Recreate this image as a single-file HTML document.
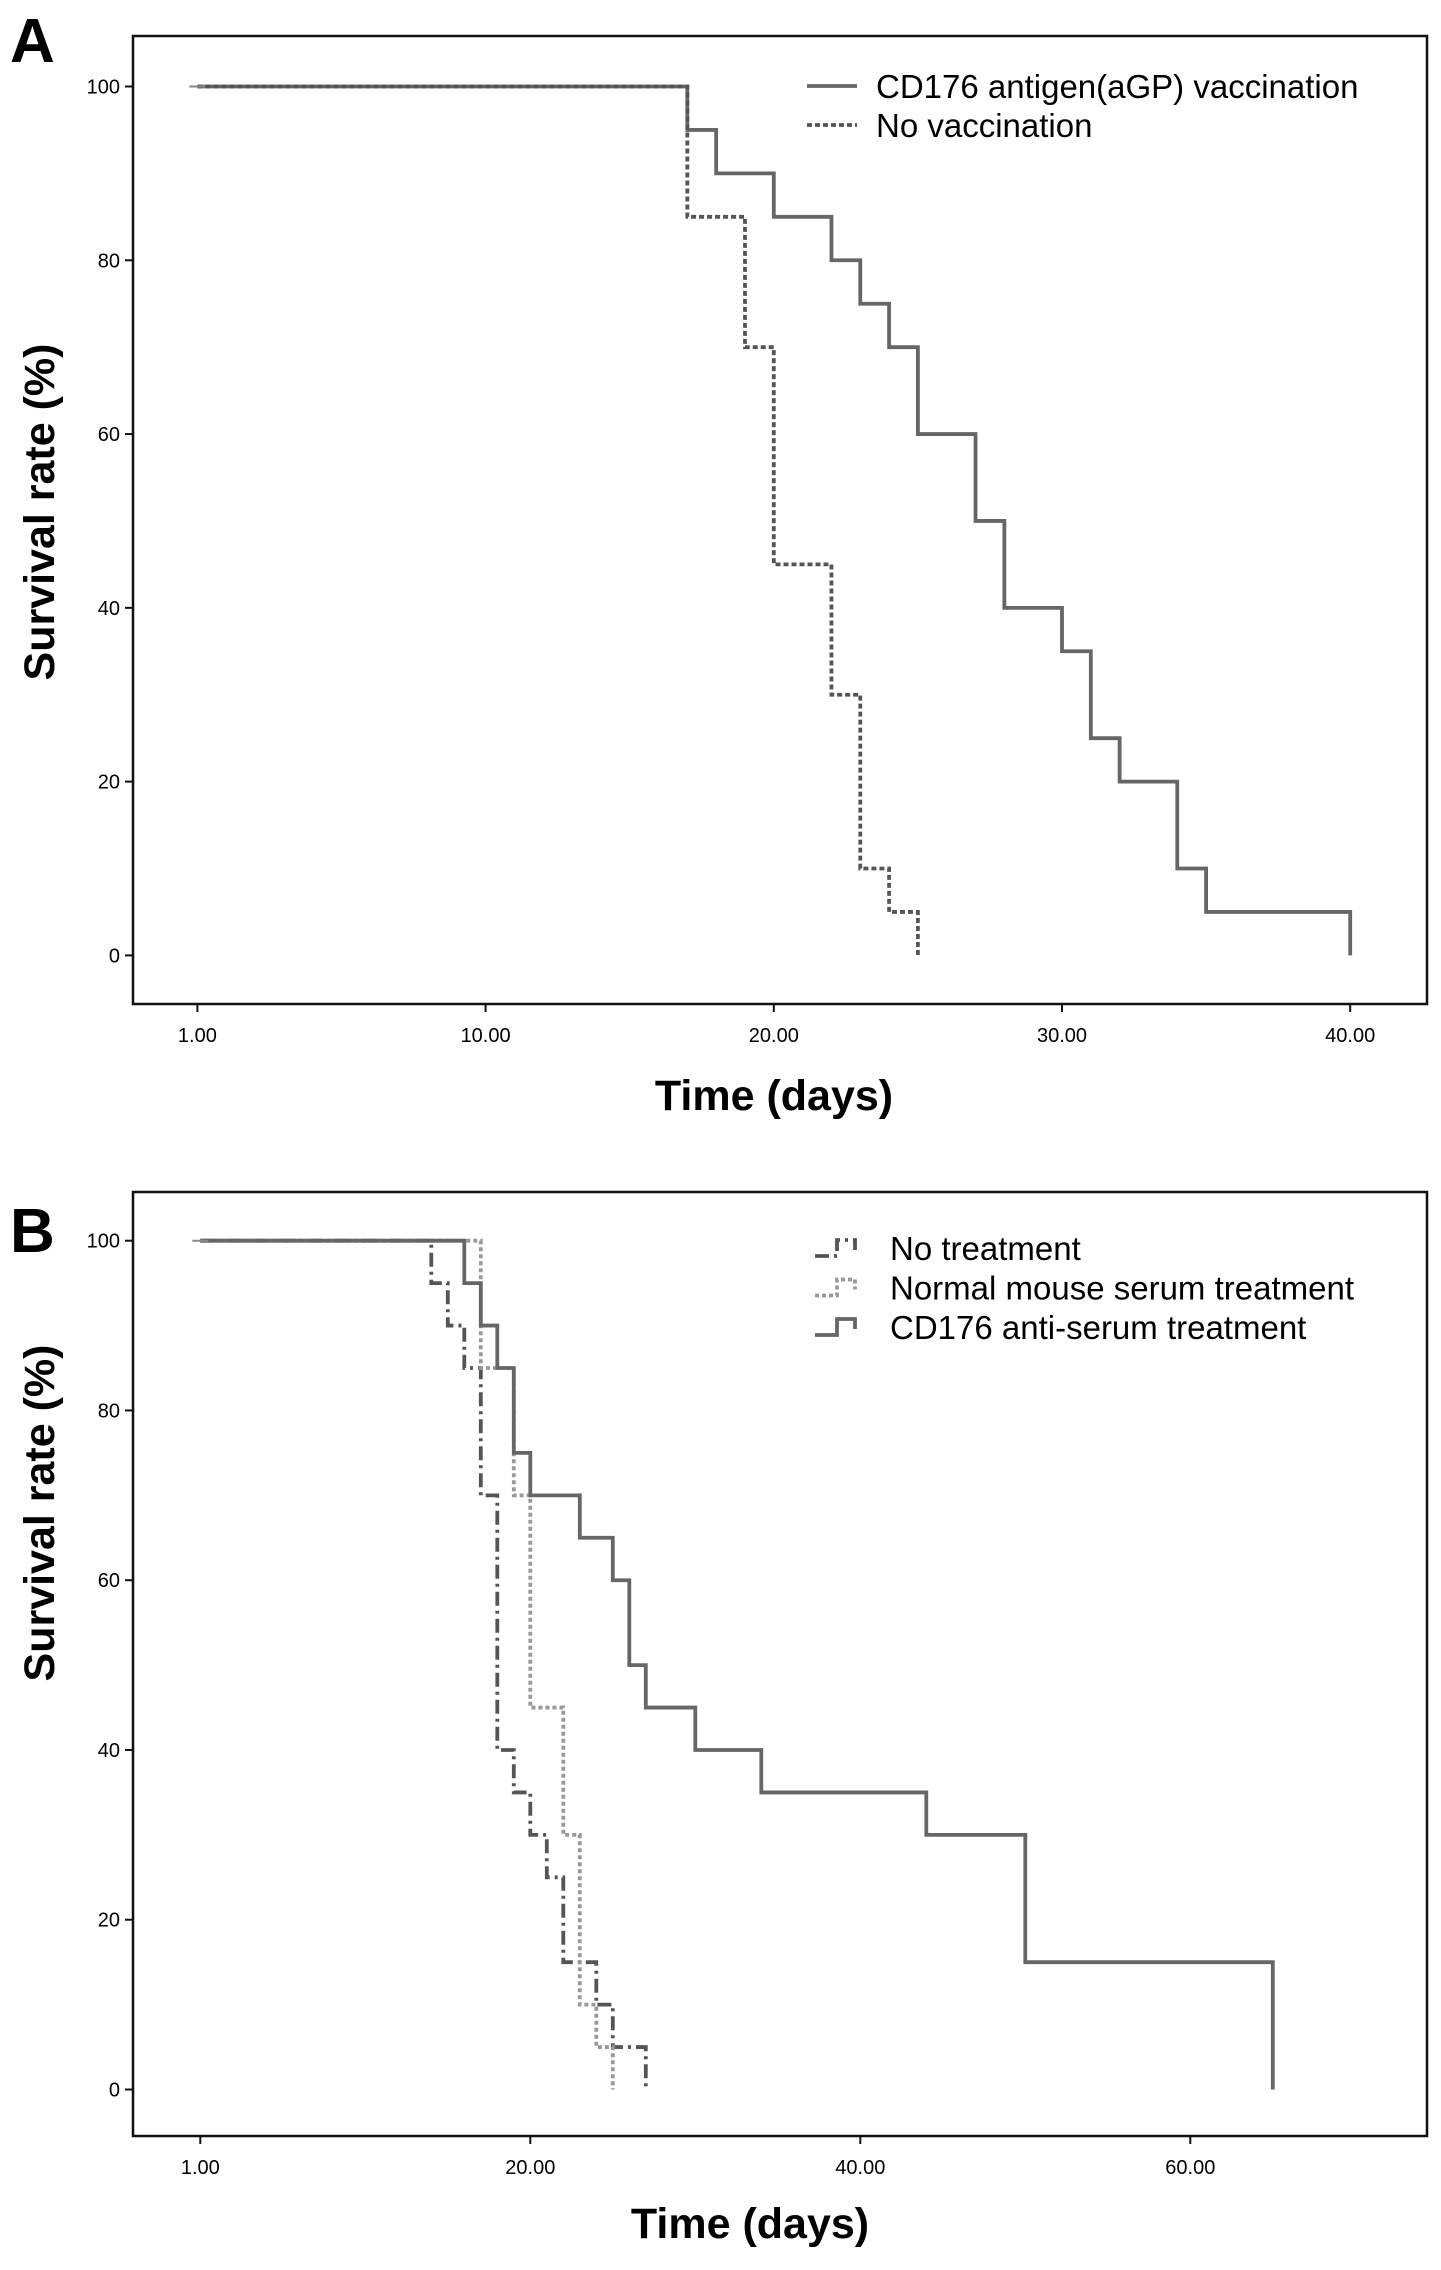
<!DOCTYPE html>
<html><head><meta charset="utf-8"><style>
body{margin:0;background:#fff}
svg{display:block;font-family:"Liberation Sans",sans-serif}
</style></head><body>
<svg id="fig" width="1441" height="2270" viewBox="0 0 1441 2270">
<text x="10" y="62" font-size="62" font-weight="bold">A</text>
<text x="10" y="1252" font-size="62" font-weight="bold">B</text>
</svg>
<script>
// Panel A data
const aTicksX = [0, 10, 20, 30, 40];
const aTickLabelsX = ["1.00", "10.00", "20.00", "30.00", "40.00"];
const ticksY = [0, 20, 40, 60, 80, 100];
const aVacTimes = [0, 17, 18, 20, 22, 23, 24, 25, 27, 28, 30, 31, 32, 34, 35, 40];
const aVacSurv = [100, 95, 90, 85, 80, 75, 70, 60, 50, 40, 35, 25, 20, 10, 5, 0];
const aNoTimes = [0, 17, 19, 20, 22, 23, 24, 25];
const aNoSurv = [100, 85, 70, 45, 30, 10, 5, 0];
// Panel B data
const bTicksX = [0, 20, 40, 60];
const bTickLabelsX = ["1.00", "20.00", "40.00", "60.00"];
const bNoTimes = [0, 14, 15, 16, 17, 18, 19, 20, 21, 22, 24, 25, 27];
const bNoSurv = [100, 95, 90, 85, 70, 40, 35, 30, 25, 15, 10, 5, 0];
const bNmsTimes = [0, 17, 19, 20, 22, 23, 24, 25];
const bNmsSurv = [100, 85, 70, 45, 30, 10, 5, 0];
const bAntiTimes = [0, 16, 17, 18, 19, 20, 23, 25, 26, 27, 30, 34, 44, 50, 65];
const bAntiSurv = [100, 95, 90, 85, 75, 70, 65, 60, 50, 45, 40, 35, 30, 15, 0];

const NS = "http://www.w3.org/2000/svg";
const svg = document.getElementById("fig");
function el(tag, attrs, parent) {
  const e = document.createElementNS(NS, tag);
  for (const k in attrs) e.setAttribute(k, attrs[k]);
  (parent || svg).appendChild(e);
  return e;
}
function stepPath(times, surv, sx, sy) {
  let d = "M" + sx(times[0]) + "," + sy(surv[0]);
  for (let i = 1; i < times.length; i++) {
    d += " H" + sx(times[i]) + " V" + sy(surv[i]);
  }
  return d;
}
function panel(cfg) {
  const sx = v => cfg.x0 + v * cfg.xu;
  const sy = v => cfg.y0 - v * cfg.yu;
  const g = el("g", {});
  
  
  const box = el("rect", {x: cfg.bx, y: cfg.by, width: cfg.bw, height: cfg.bh, fill: "none", stroke: "#111", "stroke-width": 2.5}, g);
  
  
  ticksY.forEach(v => {
    const t = el("line", {x1: cfg.bx - 8, x2: cfg.bx, y1: sy(v), y2: sy(v), stroke: "#111", "stroke-width": 2}, g);
    
    
    const tl = el("text", {x: cfg.bx - 13, y: sy(v) + 7, "font-size": 20, "text-anchor": "end"}, g);
    tl.textContent = v;
    
    
  });
  cfg.tx.forEach((v, i) => {
    const t = el("line", {x1: sx(v), x2: sx(v), y1: cfg.by + cfg.bh, y2: cfg.by + cfg.bh + 8, stroke: "#111", "stroke-width": 2}, g);
    
    
    const tl = el("text", {x: sx(v), y: cfg.by + cfg.bh + 38, "font-size": 20, "text-anchor": "middle"}, g);
    tl.textContent = cfg.tl[i];
    
    
  });
  const xt = el("text", {x: cfg.xtx, y: cfg.xty, "font-size": 43, "font-weight": "bold", "text-anchor": "middle"}, g);
  xt.textContent = "Time (days)";
  
  
  const yt = el("text", {x: 0, y: 0, "font-size": 43, "font-weight": "bold", "text-anchor": "middle", transform: "translate(54," + cfg.yty + ") rotate(-90)"}, g);
  yt.textContent = "Survival rate (%)";
  
  
  cfg.series.forEach((s, i) => {
    const p = el("path", {d: stepPath(s.t, s.v, sx, sy), fill: "none", stroke: s.color, "stroke-width": 3.8, "stroke-dasharray": s.dash}, g);
    
    
    const ly = cfg.ly + i * cfg.lgap;
    let d = s.sym ? ("M" + cfg.lx + "," + (ly + 8) + " h22 v-16 h18 v10") : ("M" + cfg.lx + "," + ly + " h50");
    const lp = el("path", {d: d, fill: "none", stroke: s.color, "stroke-width": 3.8, "stroke-dasharray": s.dash}, g);
    
    
    const lt = el("text", {x: cfg.ltx, y: ly + 12, "font-size": 33}, g);
    lt.textContent = s.label;
    
    
  });
  const cm = el("line", {x1: sx(0) - 8, x2: sx(0) + 8, y1: sy(100), y2: sy(100), stroke: "#888", "stroke-width": 2}, g);
  
  
}
panel({name: "panel-a-chart", bx: 133, by: 36, bw: 1294, bh: 968,
  x0: 197.4, xu: 28.82, y0: 955.4, yu: 8.689, tx: aTicksX, tl: aTickLabelsX,
  xtx: 774, xty: 1110, yty: 512, lx: 807, ltx: 876, ly: 86, lgap: 39,
  series: [
    {name: "cd176-vaccination", t: aVacTimes, v: aVacSurv, color: "#666", dash: "none", label: "CD176 antigen(aGP) vaccination"},
    {name: "no-vaccination", t: aNoTimes, v: aNoSurv, color: "#555", dash: "5,3", label: "No vaccination"}
  ]});
panel({name: "panel-b-chart", bx: 133, by: 1192, bw: 1294, bh: 944,
  x0: 200.3, xu: 16.5, y0: 2089.5, yu: 8.488, tx: bTicksX, tl: bTickLabelsX,
  xtx: 750, xty: 2238, yty: 1513, lx: 815, ltx: 890, ly: 1248, lgap: 39.5,
  series: [
    {name: "no-treatment", t: bNoTimes, v: bNoSurv, color: "#555", dash: "14,5,3,5", label: "No treatment", sym: true},
    {name: "normal-mouse-serum", t: bNmsTimes, v: bNmsSurv, color: "#999", dash: "4,3", label: "Normal mouse serum treatment", sym: true},
    {name: "cd176-anti-serum", t: bAntiTimes, v: bAntiSurv, color: "#666", dash: "none", label: "CD176 anti-serum treatment", sym: true}
  ]});
</script>
</body></html>
